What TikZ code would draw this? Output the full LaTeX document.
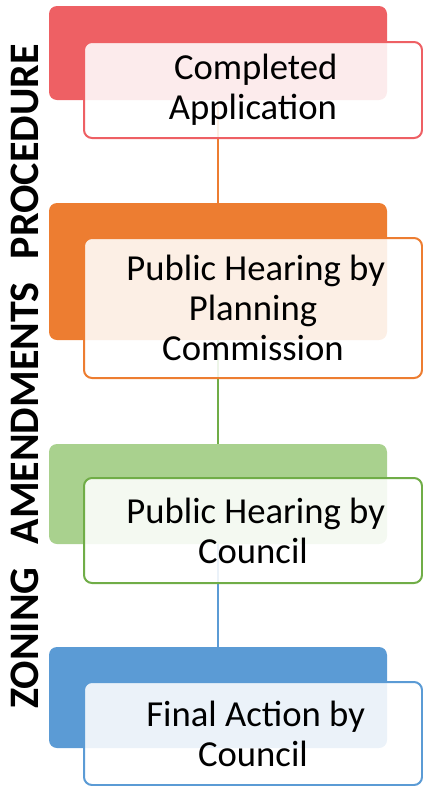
\documentclass[tikz,border=0pt]{standalone}
\usepackage{fontspec}
\setmainfont{Carlito}
\definecolor{zred}{HTML}{EE6064}
\definecolor{zorange}{HTML}{ED7D31}
\definecolor{zgreen}{HTML}{A9D18E}
\definecolor{zgreenline}{HTML}{70AD47}
\definecolor{zblue}{HTML}{5B9BD5}
\tikzset{
  band/.style={fill=#1,rounded corners=6pt,minimum width=253.5pt,inner sep=0pt},
  card/.style={draw=#1,line width=1.5pt,fill=white,fill opacity=0.88,text opacity=1,
    rounded corners=6pt,minimum width=253.5pt,align=center,
    font=\fontsize{27.5}{30}\selectfont},
}
\begin{document}
\begin{tikzpicture}[x=0.75pt,y=-0.75pt]
\useasboundingbox (0,0) rectangle (423,786);
\pgfmathsetmacro{\kbx}{218}
\pgfmathsetmacro{\kcx}{253}
% coloured bands behind the steps
\foreach \ki/\kbt/\kbb/\kcol in {1/6/100/zred,2/203/340/zorange,3/444/544/zgreen,4/647/748/zblue}{
  \node[band=\kcol,minimum height={(\kbb-\kbt)*0.75pt}] (band\ki) at (\kbx,{(\kbt+\kbb)/2}) {};}
% links
\foreach \ka/\kb/\kcol in {1/2/zorange,2/3/zgreenline,3/4/zblue}{
  \draw[\kcol,line width=1.5pt] (band\ka.south) -- (band\kb.north);}
% steps
\foreach \ki/\kct/\kcb/\kcol/\klb in {1/42/138/zred/{Completed\\Application},
    2/238/378/zorange/{Public Hearing by\\Planning\\Commission},
    3/478/583/zgreenline/{Public Hearing by\\Council},
    4/682/785/zblue/{Final Action by\\Council}}{
  \node[card=\kcol,minimum height={(\kcb-\kct)*0.75pt}] (step\ki) at (\kcx,{(\kct+\kcb)/2}) {\hspace{4pt}\klb};}
\node[rotate=90,font=\bfseries\fontsize{31.5}{36}\selectfont] (title) at (25,376.5)
  {ZONING\hspace{0.55em}AMENDMENTS\hspace{0.55em}PROCEDURE};
\end{tikzpicture}
\end{document}
